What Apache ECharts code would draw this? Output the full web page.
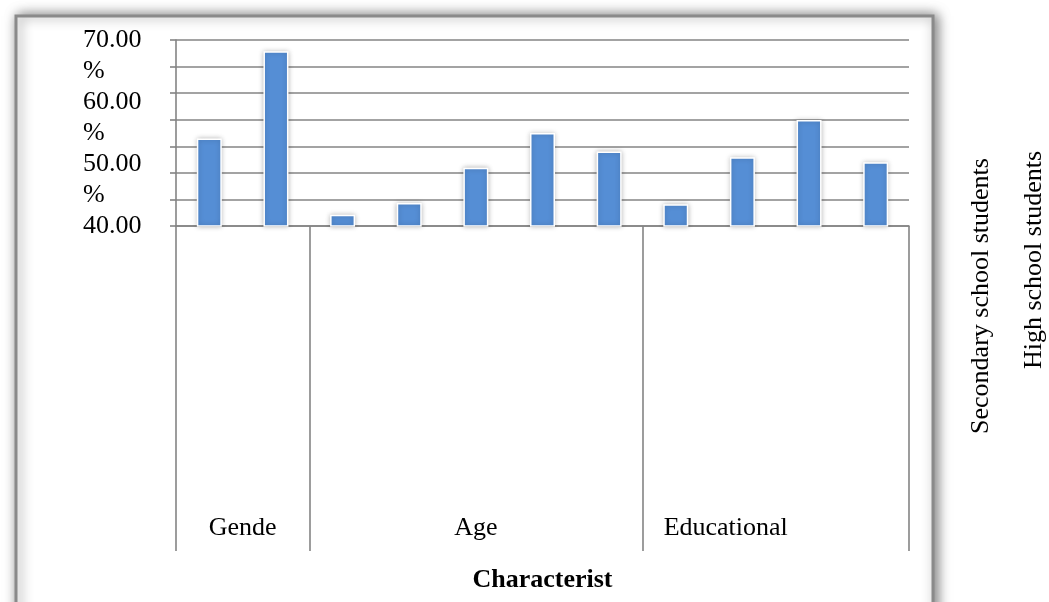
<!DOCTYPE html>
<html>
<head>
<meta charset="utf-8">
<script src="https://cdn.jsdelivr.net/npm/echarts@6/dist/echarts.min.js"></script>
<style>
  html, body { margin: 0; padding: 0; background: #fff; }
  #chart { width: 1049px; height: 602px; }
</style>
</head>
<body>
<div id="chart"></div>
<script>
// Share of respondents by characteristic (bars grouped by group)
const categories = ['Male', 'Female', 'Age 1', 'Age 2', 'Age 3', 'Age 4', 'Age 5',
  'Education 1', 'Education 2', 'Secondary school students', 'High school students'];
const values = [54.1, 68.2, 41.8, 43.7, 49.4, 55.0, 52.0, 43.5, 51.1, 57.1, 50.3];
const groupNames = ['Gende', 'Age', 'Educational'];
const groupSizes = [2, 5, 4];
const yTicks = [40, 50, 60, 70];
const sideLabels = ['Secondary school students', 'High school students'];
const axisTitle = 'Characterist';

const FONT = '"Liberation Serif", "Times New Roman", serif';
const FS = 26;
const GRID_COLOR = '#848484';
const Y_MIN = 40, Y_MAX = 70;
// the wrapped "%" line sits half a label step (5 units) below each value
const PCT_SHIFT = 5;

// group boundaries and centres in category units
const bounds = [0];
groupSizes.forEach(s => bounds.push(bounds[bounds.length - 1] + s));
const centers = groupSizes.map((s, i) => bounds[i] + s / 2);
const nCats = categories.length;

const chart = echarts.init(document.getElementById('chart'), null, { renderer: 'canvas' });

const yLabelBase = {
  show: true,
  showMinLabel: true,
  showMaxLabel: true,
  align: 'left',
  margin: 93,
  fontFamily: FONT, fontSize: FS, color: '#000'
};

const option = {
  backgroundColor: '#ffffff',
  animation: false,
  grid: { left: 176, right: 140, top: 40, bottom: 376, containLabel: false, outerBoundsMode: 'none' },
  graphic: [
    {
      type: 'rect', z: -10, silent: true,
      shape: { x: 16, y: 16, width: 917, height: 640 },
      style: {
        fill: '#ffffff', stroke: '#8a8a8a', lineWidth: 3,
        shadowBlur: 12, shadowColor: 'rgba(0,0,0,0.5)', shadowOffsetX: 3, shadowOffsetY: 0
      }
    },
    {
      type: 'text', x: 981, y: 296, rotation: Math.PI / 2, silent: true,
      style: { text: sideLabels[0], font: FS + 'px ' + FONT, fill: '#000', align: 'center', verticalAlign: 'middle' }
    },
    {
      type: 'text', x: 1034, y: 260, rotation: Math.PI / 2, silent: true,
      style: { text: sideLabels[1], font: FS + 'px ' + FONT, fill: '#000', align: 'center', verticalAlign: 'middle' }
    }
  ],
  xAxis: [
    {
      type: 'category',
      data: categories,
      position: 'bottom',
      axisLine: { show: false },
      axisTick: { show: false },
      axisLabel: { show: false },
      splitLine: { show: false }
    },
    {
      type: 'value',
      min: 0, max: nCats,
      position: 'bottom',
      name: axisTitle,
      nameLocation: 'middle',
      nameGap: 354,
      nameTextStyle: { fontFamily: FONT, fontSize: FS, fontWeight: 'bold', color: '#000', verticalAlign: 'middle' },
      axisLine: { show: true, lineStyle: { color: GRID_COLOR, width: 1.6 } },
      axisTick: { show: true, length: 325, customValues: bounds, lineStyle: { color: GRID_COLOR, width: 1.6 } },
      axisLabel: {
        show: true,
        customValues: centers,
        margin: 302,
        verticalAlign: 'middle',
        fontFamily: FONT, fontSize: FS, color: '#000',
        formatter: v => {
          const i = centers.findIndex(c => Math.abs(c - v) < 1e-6);
          if (i < 0) return '';
          return i === groupNames.length - 1 ? '{edu|' + groupNames[i] + '}' : groupNames[i];
        },
        rich: { edu: { fontFamily: FONT, fontSize: FS, color: '#000', padding: [0, 100, 0, 0] } }
      },
      splitLine: { show: false }
    }
  ],
  yAxis: [
    {
      // value scale used by the bars, with the number part of each tick label
      type: 'value',
      min: Y_MIN, max: Y_MAX, interval: 10,
      position: 'left',
      axisLine: { show: false },
      axisTick: { show: false },
      splitLine: { show: false },
      axisLabel: Object.assign({}, yLabelBase, {
        formatter: v => (yTicks.indexOf(v) >= 0 ? v.toFixed(2) : '')
      })
    },
    {
      // gridlines and tick marks
      type: 'value',
      min: 0, max: 7, interval: 1,
      position: 'left',
      axisLine: { show: true, lineStyle: { color: GRID_COLOR, width: 1.6 } },
      axisTick: { show: true, length: 6, lineStyle: { color: GRID_COLOR, width: 1.6 } },
      axisLabel: { show: false },
      splitLine: { show: true, lineStyle: { color: GRID_COLOR, width: 1.6 } }
    },
    {
      // wrapped "%" line of each tick label except the lowest
      type: 'value',
      min: Y_MIN + PCT_SHIFT, max: Y_MAX + PCT_SHIFT, interval: PCT_SHIFT,
      position: 'left',
      axisLine: { show: false },
      axisTick: { show: false },
      splitLine: { show: false },
      axisLabel: Object.assign({}, yLabelBase, {
        showMaxLabel: false,
        formatter: v => (yTicks.indexOf(v) > 0 ? '%' : '')
      })
    }
  ],
  series: [
    {
      type: 'bar',
      xAxisIndex: 0,
      yAxisIndex: 0,
      data: values,
      barWidth: 25,
      itemStyle: {
        color: '#558ED5',
        borderColor: '#ffffff',
        borderWidth: 1.5,
        shadowBlur: 5,
        shadowColor: 'rgba(0,0,0,0.25)'
      },
      z: 3
    }
  ]
};

chart.setOption(option);
</script>
</body>
</html>
